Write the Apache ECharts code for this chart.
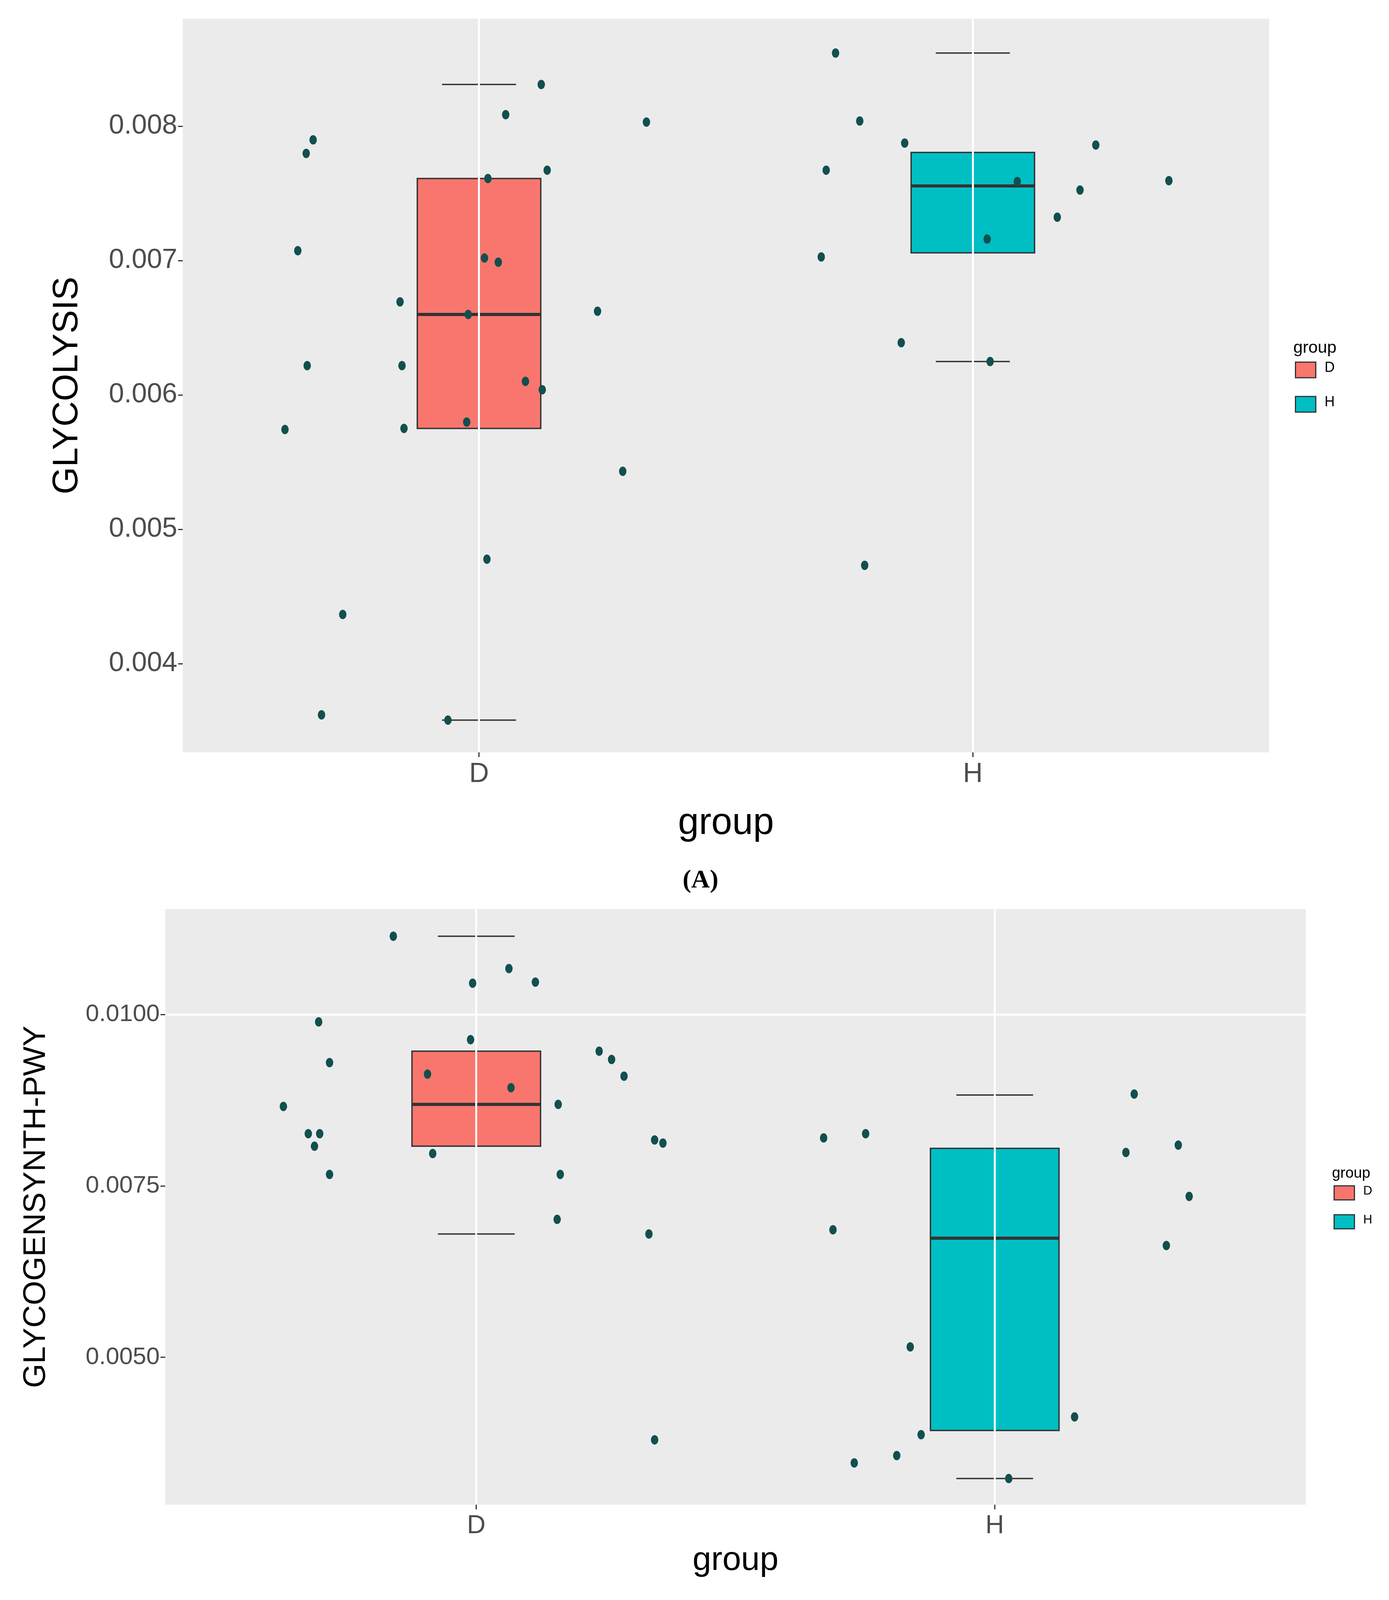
<!DOCTYPE html>
<html>
<head>
<meta charset="utf-8">
<script src="https://cdn.jsdelivr.net/npm/echarts@6/dist/echarts.min.js"></script>
<style>html,body{margin:0;background:#fff}#main{width:3557px;height:4180px}</style>
</head>
<body>
<div id="main"></div>
<script>
// 数据 (A) GLYCOLYSIS
var groups = ['D', 'H'];
var ptsA_D = [[0.607,0.005743],[0.650,0.007798],[0.664,0.007899],[0.633,0.007074],[0.652,0.006218],[0.724,0.004366],[0.681,0.003619],[0.840,0.006693],[0.844,0.006218],[0.848,0.005751],[0.937,0.003580],[0.975,0.005798],[0.978,0.006599],[1.011,0.007019],[1.039,0.006988],[1.018,0.007611],[1.016,0.004778],[1.054,0.008086],[1.126,0.008311],[1.138,0.007673],[1.094,0.006101],[1.128,0.006039],[1.240,0.006623],[1.291,0.005432],[1.339,0.008031]];
var ptsA_H = [[1.722,0.008545],[1.771,0.008039],[1.703,0.007673],[1.693,0.007027],[1.862,0.007875],[1.855,0.006389],[1.781,0.004732],[2.090,0.007588],[2.029,0.007160],[2.035,0.006249],[2.171,0.007323],[2.217,0.007525],[2.249,0.007860],[2.397,0.007595]];
// [x, min, Q1, median, Q3, max]
var boxA = [[1,0.00358,0.005751,0.006599,0.007611,0.008311],[2,0.006249,0.007058,0.007556,0.007805,0.008545]];
var majorA = [0.004,0.005,0.006,0.007,0.008];
var minorA = [0.0035,0.0045,0.0055,0.0065,0.0075,0.0085];

// 数据 (B) GLYCOGENSYNTH-PWY
var ptsB_D = [[0.840,0.011143],[0.628,0.008659],[0.696,0.009893],[0.717,0.009299],[0.676,0.008262],[0.698,0.008262],[0.688,0.008079],[0.717,0.007668],[0.906,0.009131],[0.916,0.007973],[0.993,0.010457],[0.989,0.009634],[1.063,0.010671],[1.114,0.010473],[1.067,0.008933],[1.158,0.008689],[1.162,0.007668],[1.156,0.007012],[1.237,0.009466],[1.261,0.009345],[1.285,0.009101],[1.344,0.008171],[1.360,0.008125],[1.333,0.006799],[1.344,0.003796]];
var ptsB_H = [[1.670,0.008201],[1.751,0.008262],[1.688,0.006860],[1.837,0.005152],[1.729,0.003460],[1.811,0.003567],[1.858,0.003872],[2.027,0.003232],[2.154,0.004131],[2.253,0.007988],[2.269,0.008841],[2.354,0.008095],[2.375,0.007348],[2.331,0.006631]];
var boxB = [[1,0.006799,0.008079,0.008689,0.009466,0.011143],[2,0.003232,0.003933,0.006738,0.008049,0.008826]];
var majorB = [0.005,0.0075,0.01];
var minorB = [0.00375,0.00625,0.00875,0.01125];

var fills = ['#F8766D', '#00BFC4'];
var narrow = '"Liberation Sans Narrow", "Liberation Sans", sans-serif';

function boxRender(halfW, capW) {
  return function (params, api) {
    var x = api.value(0);
    var pMin = api.coord([x, api.value(1)]), pQ1 = api.coord([x, api.value(2)]);
    var pMed = api.coord([x, api.value(3)]), pQ3 = api.coord([x, api.value(4)]);
    var pMax = api.coord([x, api.value(5)]);
    var l = api.coord([x - halfW, 0])[0], r = api.coord([x + halfW, 0])[0];
    var cl = api.coord([x - capW, 0])[0], cr = api.coord([x + capW, 0])[0];
    var ln = {stroke: '#333', lineWidth: 3.5};
    return {type: 'group', children: [
      {type: 'line', shape: {x1: pMax[0], y1: pMax[1], x2: pQ3[0], y2: pQ3[1]}, style: ln},
      {type: 'line', shape: {x1: pQ1[0], y1: pQ1[1], x2: pMin[0], y2: pMin[1]}, style: ln},
      {type: 'line', shape: {x1: cl, y1: pMax[1], x2: cr, y2: pMax[1]}, style: ln},
      {type: 'line', shape: {x1: cl, y1: pMin[1], x2: cr, y2: pMin[1]}, style: ln},
      {type: 'rect', shape: {x: l, y: pQ3[1], width: r - l, height: pQ1[1] - pQ3[1]},
        style: {fill: fills[params.dataIndex], stroke: '#333', lineWidth: 3.5}},
      {type: 'line', shape: {x1: l, y1: pMed[1], x2: r, y2: pMed[1]}, style: {stroke: '#333', lineWidth: 8}}
    ]};
  };
}

function gridLines(idx, major, minor) {
  var d = [];
  major.forEach(function (v) { d.push({yAxis: v, lineStyle: {color: '#fff', width: 5, type: 'solid'}}); });
  minor.forEach(function (v) { d.push({yAxis: v, lineStyle: {color: '#fff', width: 2.5, type: 'solid'}}); });
  [1, 2].forEach(function (v) { d.push({xAxis: v, lineStyle: {color: '#fff', width: 5, type: 'solid'}}); });
  return {type: 'scatter', xAxisIndex: idx, yAxisIndex: idx, data: [], silent: true, z: 1,
    markLine: {silent: true, symbol: 'none', label: {show: false}, animation: false, data: d}};
}

function pts(idx, data) {
  return {type: 'scatter', xAxisIndex: idx, yAxisIndex: idx, data: data, z: 5,
    symbol: 'circle', symbolSize: [19, 24], itemStyle: {color: '#124f4f', opacity: 1}};
}

function xAx(idx, fs, nfs, gap) {
  return {type: 'value', gridIndex: idx, min: 0.4, max: 2.6, interval: 1,
    name: 'group', nameLocation: 'middle', nameGap: gap,
    nameTextStyle: {fontSize: nfs, color: '#000', fontFamily: narrow},
    axisLine: {show: false}, splitLine: {show: false},
    axisTick: {show: true, length: 12, lineStyle: {color: '#333', width: 3}, customValues: [1, 2]},
    axisLabel: {fontSize: fs, color: '#4d4d4d', fontFamily: narrow, margin: 22, customValues: [1, 2],
      formatter: function (v) { return v === 1 ? groups[0] : (v === 2 ? groups[1] : ''); }}};
}

function yAx(idx, min, max, ticks, digits, name, fs, nfs, gap) {
  return {type: 'value', gridIndex: idx, min: min, max: max,
    name: name, nameLocation: 'middle', nameGap: gap,
    nameTextStyle: {fontSize: nfs, color: '#000', fontFamily: '"Liberation Sans", sans-serif'},
    axisLine: {show: false}, splitLine: {show: false},
    axisTick: {show: true, length: 12, lineStyle: {color: '#333', width: 3}, customValues: ticks},
    axisLabel: {fontSize: fs, color: '#4d4d4d', fontFamily: narrow, margin: 14, customValues: ticks,
      formatter: function (v) { return v.toFixed(digits); }}};
}

function legend(x, y0, dy, fs, kw, kh) {
  var g = [{type: 'text', left: x, top: y0, style: {text: 'group', fontSize: fs * 1.2, fill: '#000', fontFamily: narrow}}];
  groups.forEach(function (n, i) {
    var y = y0 + fs * 2.1 + i * dy;
    g.push({type: 'rect', left: x + 4, top: y - kh / 2, shape: {width: kw, height: kh},
      style: {fill: fills[i], stroke: '#333', lineWidth: 3}});
    g.push({type: 'text', left: x + kw + 28, top: y - fs * 0.6, style: {text: n, fontSize: fs, fill: '#000', fontFamily: narrow}});
  });
  return g;
}

var myChart = echarts.init(document.getElementById('main'));
var option = {
  backgroundColor: '#fff',
  animation: false,
  grid: [
    {left: 468, top: 48, width: 2782, height: 1878, show: true, backgroundColor: '#ebebeb', borderWidth: 0},
    {left: 423, top: 2327, width: 2921, height: 1525, show: true, backgroundColor: '#ebebeb', borderWidth: 0}
  ],
  xAxis: [xAx(0, 70, 96, 135), xAx(1, 66, 86, 100)],
  yAxis: [
    yAx(0, 0.00334, 0.0088, majorA, 3, 'GLYCOLYSIS', 70, 90, 250),
    yAx(1, 0.00285, 0.01154, majorB, 4, 'GLYCOGENSYNTH-PWY', 62, 80, 290)
  ],
  graphic: legend(3312, 870, 88, 36, 52, 40)
    .concat(legend(3411, 2985, 74, 32, 52, 36))
    .concat([
      {type: 'text', left: 1748, top: 2222, style: {text: '(A)', fontSize: 66, fontWeight: 'bold', fill: '#000', fontFamily: '"Liberation Serif", serif'}},
      {type: 'text', left: 1748, top: 4095, style: {text: '(B)', fontSize: 66, fontWeight: 'bold', fill: '#000', fontFamily: '"Liberation Serif", serif'}}
    ]),
  series: [
    gridLines(0, majorA, minorA),
    gridLines(1, majorB, minorB),
    {type: 'custom', xAxisIndex: 0, yAxisIndex: 0, z: 3, renderItem: boxRender(0.125, 0.075), data: boxA, encode: {x: 0, y: [1, 5]}},
    {type: 'custom', xAxisIndex: 1, yAxisIndex: 1, z: 3, renderItem: boxRender(0.124, 0.074), data: boxB, encode: {x: 0, y: [1, 5]}},
    pts(0, ptsA_D), pts(0, ptsA_H), pts(1, ptsB_D), pts(1, ptsB_H)
  ]
};
myChart.setOption(option);
</script>
</body>
</html>
